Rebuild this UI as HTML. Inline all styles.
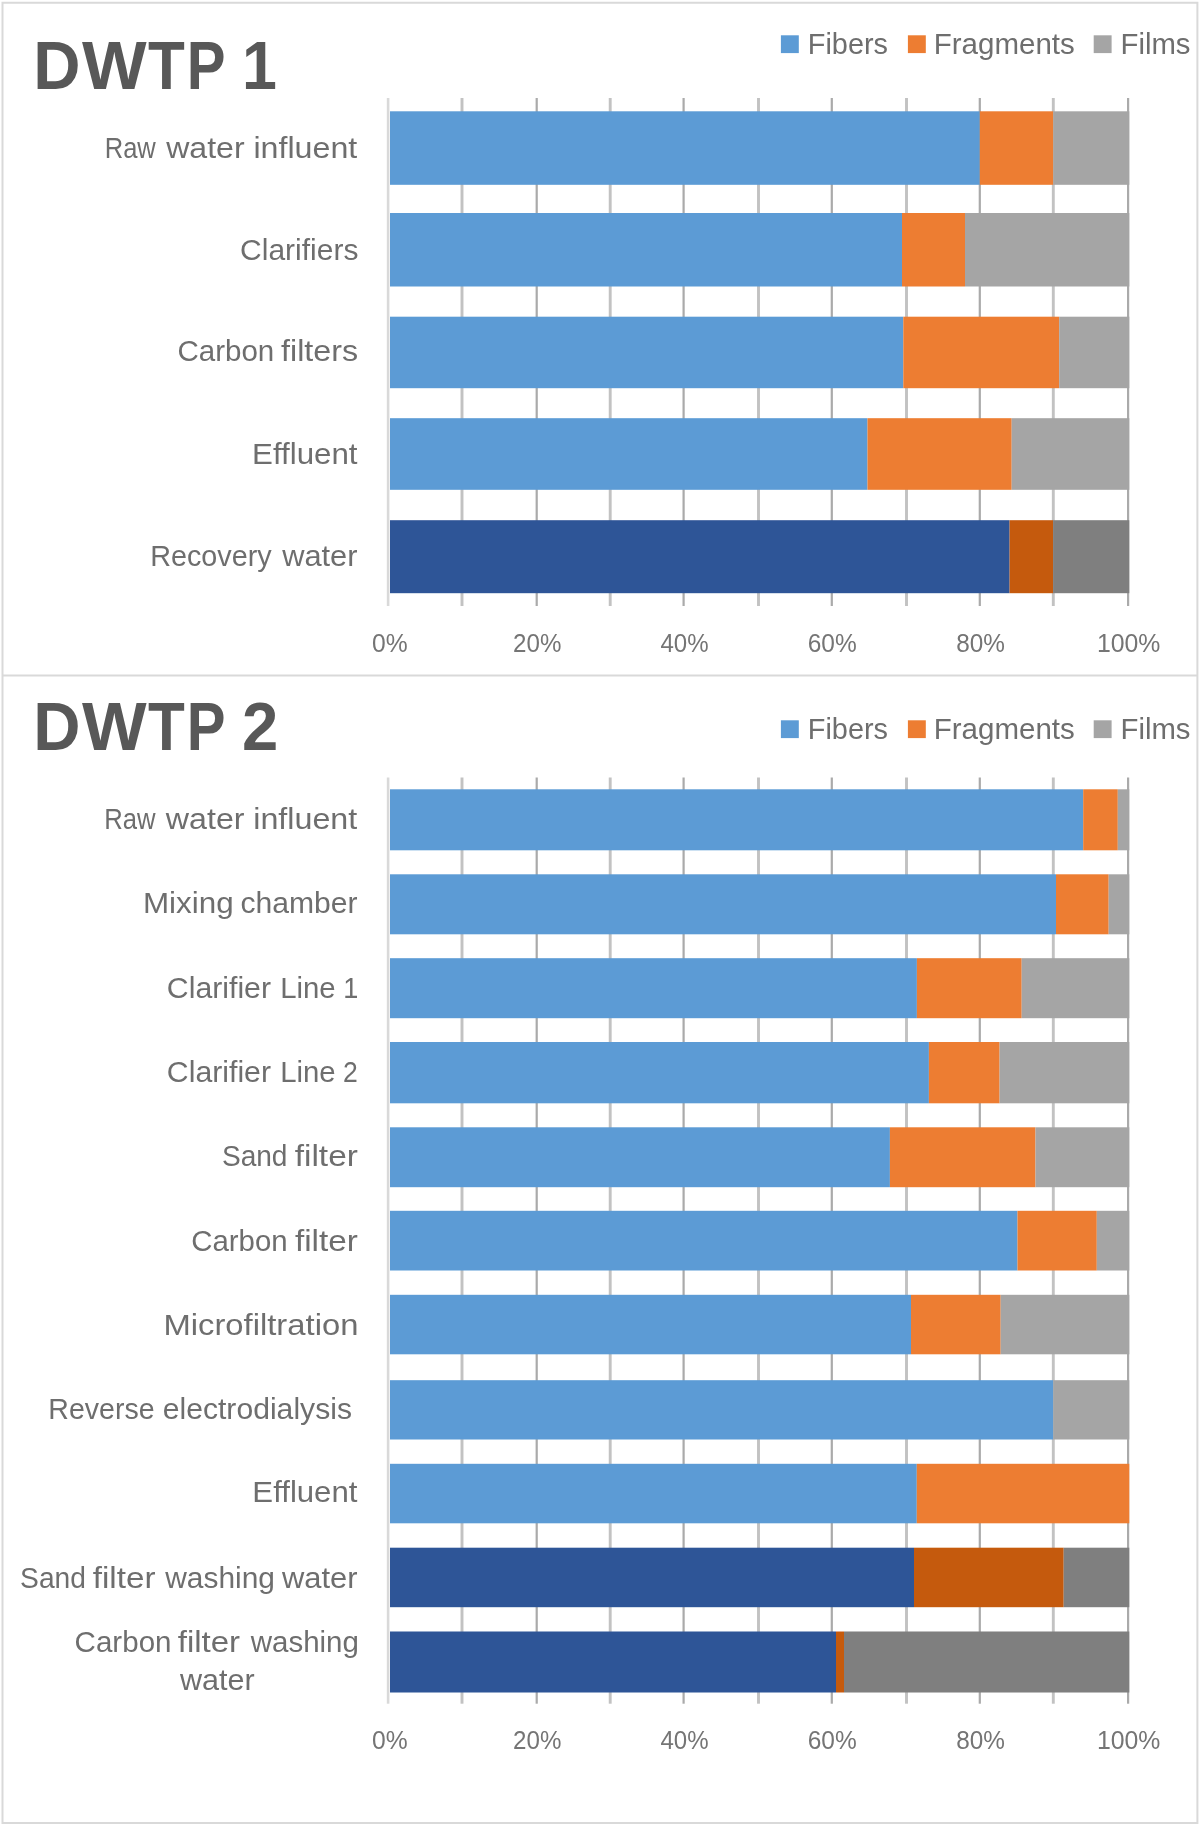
<!DOCTYPE html>
<html><head><meta charset="utf-8"><style>
html,body{margin:0;padding:0;background:#fff;}
svg{display:block;font-family:"Liberation Sans",sans-serif;}
</style></head><body>
<svg width="1200" height="1826" viewBox="0 0 1200 1826">
<defs><filter id="bs" x="-5%" y="-5%" width="110%" height="110%"><feGaussianBlur stdDeviation="0.5"/></filter><filter id="bt" x="-5%" y="-5%" width="110%" height="110%"><feGaussianBlur stdDeviation="0.7"/></filter></defs>
<rect width="1200" height="1826" fill="#ffffff"/>
<g filter="url(#bs)"><rect x="2.5" y="2.75" width="1194.9" height="1820.25" fill="none" stroke="#d9d9d9" stroke-width="2"/>
<line x1="2.5" y1="675.6" x2="1197.4" y2="675.6" stroke="#d9d9d9" stroke-width="2"/>
<rect x="460.55" y="98.00" width="2.90" height="508.00" fill="#c2c2c2"/>
<rect x="535.60" y="98.00" width="2.20" height="508.00" fill="#aaaaaa"/>
<rect x="608.75" y="98.00" width="2.90" height="508.00" fill="#c2c2c2"/>
<rect x="682.50" y="98.00" width="2.20" height="508.00" fill="#aaaaaa"/>
<rect x="757.05" y="98.00" width="2.90" height="508.00" fill="#c2c2c2"/>
<rect x="830.70" y="98.00" width="2.20" height="508.00" fill="#aaaaaa"/>
<rect x="905.05" y="98.00" width="2.90" height="508.00" fill="#c2c2c2"/>
<rect x="978.70" y="98.00" width="2.20" height="508.00" fill="#aaaaaa"/>
<rect x="1051.85" y="98.00" width="2.90" height="508.00" fill="#c2c2c2"/>
<rect x="1127.00" y="98.00" width="2.20" height="508.00" fill="#aaaaaa"/>
<rect x="386.80" y="98.00" width="2.60" height="508.00" fill="#d9d9d9"/>
<rect x="390.00" y="111.30" width="589.80" height="73.50" fill="#5b9bd5"/>
<rect x="979.80" y="111.30" width="73.50" height="73.50" fill="#ed7d31"/>
<rect x="1053.30" y="111.30" width="76.00" height="73.50" fill="#a5a5a5"/>
<rect x="390.00" y="213.00" width="512.00" height="73.50" fill="#5b9bd5"/>
<rect x="902.00" y="213.00" width="63.00" height="73.50" fill="#ed7d31"/>
<rect x="965.00" y="213.00" width="164.30" height="73.50" fill="#a5a5a5"/>
<rect x="390.00" y="316.70" width="513.30" height="71.50" fill="#5b9bd5"/>
<rect x="903.30" y="316.70" width="155.90" height="71.50" fill="#ed7d31"/>
<rect x="1059.20" y="316.70" width="70.10" height="71.50" fill="#a5a5a5"/>
<rect x="390.00" y="418.20" width="477.50" height="71.60" fill="#5b9bd5"/>
<rect x="867.50" y="418.20" width="144.20" height="71.60" fill="#ed7d31"/>
<rect x="1011.70" y="418.20" width="117.60" height="71.60" fill="#a5a5a5"/>
<rect x="390.00" y="520.20" width="619.60" height="73.00" fill="#2f5597"/>
<rect x="1009.60" y="520.20" width="43.50" height="73.00" fill="#c55a11"/>
<rect x="1053.10" y="520.20" width="76.20" height="73.00" fill="#7f7f7f"/>
<rect x="780.90" y="35.30" width="17.90" height="17.80" fill="#5b9bd5"/>
<rect x="907.90" y="35.30" width="17.90" height="17.80" fill="#ed7d31"/>
<rect x="1093.70" y="35.30" width="17.90" height="17.80" fill="#a5a5a5"/>
<rect x="460.55" y="777.50" width="2.90" height="926.20" fill="#c2c2c2"/>
<rect x="535.60" y="777.50" width="2.20" height="926.20" fill="#aaaaaa"/>
<rect x="608.75" y="777.50" width="2.90" height="926.20" fill="#c2c2c2"/>
<rect x="682.50" y="777.50" width="2.20" height="926.20" fill="#aaaaaa"/>
<rect x="757.05" y="777.50" width="2.90" height="926.20" fill="#c2c2c2"/>
<rect x="830.70" y="777.50" width="2.20" height="926.20" fill="#aaaaaa"/>
<rect x="905.05" y="777.50" width="2.90" height="926.20" fill="#c2c2c2"/>
<rect x="978.70" y="777.50" width="2.20" height="926.20" fill="#aaaaaa"/>
<rect x="1051.85" y="777.50" width="2.90" height="926.20" fill="#c2c2c2"/>
<rect x="1127.00" y="777.50" width="2.20" height="926.20" fill="#aaaaaa"/>
<rect x="386.80" y="777.50" width="2.60" height="926.20" fill="#d9d9d9"/>
<rect x="390.00" y="789.30" width="693.20" height="61.00" fill="#5b9bd5"/>
<rect x="1083.20" y="789.30" width="34.60" height="61.00" fill="#ed7d31"/>
<rect x="1117.80" y="789.30" width="11.50" height="61.00" fill="#a5a5a5"/>
<rect x="390.00" y="874.30" width="666.00" height="60.00" fill="#5b9bd5"/>
<rect x="1056.00" y="874.30" width="52.70" height="60.00" fill="#ed7d31"/>
<rect x="1108.70" y="874.30" width="20.60" height="60.00" fill="#a5a5a5"/>
<rect x="390.00" y="958.20" width="526.90" height="60.00" fill="#5b9bd5"/>
<rect x="916.90" y="958.20" width="104.80" height="60.00" fill="#ed7d31"/>
<rect x="1021.70" y="958.20" width="107.60" height="60.00" fill="#a5a5a5"/>
<rect x="390.00" y="1042.00" width="538.90" height="61.30" fill="#5b9bd5"/>
<rect x="928.90" y="1042.00" width="70.70" height="61.30" fill="#ed7d31"/>
<rect x="999.60" y="1042.00" width="129.70" height="61.30" fill="#a5a5a5"/>
<rect x="390.00" y="1127.30" width="499.90" height="59.90" fill="#5b9bd5"/>
<rect x="889.90" y="1127.30" width="145.60" height="59.90" fill="#ed7d31"/>
<rect x="1035.50" y="1127.30" width="93.80" height="59.90" fill="#a5a5a5"/>
<rect x="390.00" y="1210.80" width="627.50" height="59.70" fill="#5b9bd5"/>
<rect x="1017.50" y="1210.80" width="79.30" height="59.70" fill="#ed7d31"/>
<rect x="1096.80" y="1210.80" width="32.50" height="59.70" fill="#a5a5a5"/>
<rect x="390.00" y="1294.80" width="521.00" height="59.50" fill="#5b9bd5"/>
<rect x="911.00" y="1294.80" width="89.70" height="59.50" fill="#ed7d31"/>
<rect x="1000.70" y="1294.80" width="128.60" height="59.50" fill="#a5a5a5"/>
<rect x="390.00" y="1380.20" width="663.30" height="59.30" fill="#5b9bd5"/>
<rect x="1053.30" y="1380.20" width="76.00" height="59.30" fill="#a5a5a5"/>
<rect x="390.00" y="1463.80" width="526.80" height="59.50" fill="#5b9bd5"/>
<rect x="916.80" y="1463.80" width="212.50" height="59.50" fill="#ed7d31"/>
<rect x="390.00" y="1547.70" width="524.00" height="59.50" fill="#2f5597"/>
<rect x="914.00" y="1547.70" width="149.70" height="59.50" fill="#c55a11"/>
<rect x="1063.70" y="1547.70" width="65.60" height="59.50" fill="#7f7f7f"/>
<rect x="390.00" y="1631.50" width="446.00" height="61.00" fill="#2f5597"/>
<rect x="836.00" y="1631.50" width="8.00" height="61.00" fill="#c55a11"/>
<rect x="844.00" y="1631.50" width="285.30" height="61.00" fill="#7f7f7f"/>
<rect x="780.90" y="720.30" width="17.90" height="17.80" fill="#5b9bd5"/>
<rect x="907.90" y="720.30" width="17.90" height="17.80" fill="#ed7d31"/>
<rect x="1093.70" y="720.30" width="17.90" height="17.80" fill="#a5a5a5"/></g>
<g filter="url(#bt)"><text y="157.70" style="font-size:29px" fill="#6e6e6e"><tspan x="104.70" textLength="51.13" lengthAdjust="spacingAndGlyphs">Raw</tspan> <tspan x="166.15" textLength="78.49" lengthAdjust="spacingAndGlyphs">water</tspan> <tspan x="253.45" textLength="103.79" lengthAdjust="spacingAndGlyphs">influent</tspan></text>
<text y="259.60" style="font-size:29px" fill="#6e6e6e"><tspan x="240.08" textLength="118.31" lengthAdjust="spacingAndGlyphs">Clarifiers</tspan></text>
<text y="360.80" style="font-size:29px" fill="#6e6e6e"><tspan x="177.40" textLength="96.92" lengthAdjust="spacingAndGlyphs">Carbon</tspan> <tspan x="281.04" textLength="77.12" lengthAdjust="spacingAndGlyphs">filters</tspan></text>
<text y="464.30" style="font-size:29px" fill="#6e6e6e"><tspan x="252.05" textLength="105.48" lengthAdjust="spacingAndGlyphs">Effluent</tspan></text>
<text y="566.00" style="font-size:29px" fill="#6e6e6e"><tspan x="150.14" textLength="121.52" lengthAdjust="spacingAndGlyphs">Recovery</tspan> <tspan x="282.15" textLength="75.37" lengthAdjust="spacingAndGlyphs">water</tspan></text>
<text y="88.70" style="font-weight:bold;font-size:68px" fill="#595959"><tspan x="33.23" textLength="47.22" lengthAdjust="spacingAndGlyphs">D</tspan><tspan x="81.93" textLength="64.63" lengthAdjust="spacingAndGlyphs">W</tspan><tspan x="147.92" textLength="36.82" lengthAdjust="spacingAndGlyphs">T</tspan><tspan x="186.82" textLength="37.72" lengthAdjust="spacingAndGlyphs">P</tspan> <tspan x="241.95" textLength="34.90" lengthAdjust="spacingAndGlyphs">1</tspan></text>
<text x="807.83" y="54.20" textLength="80.21" lengthAdjust="spacingAndGlyphs" style="font-size:29.5px" fill="#6e6e6e">Fibers</text>
<text x="933.78" y="54.20" textLength="140.99" lengthAdjust="spacingAndGlyphs" style="font-size:29.5px" fill="#6e6e6e">Fragments</text>
<text x="1120.50" y="54.20" textLength="69.96" lengthAdjust="spacingAndGlyphs" style="font-size:29.5px" fill="#6e6e6e">Films</text>
<text x="371.94" y="651.50" textLength="35.64" lengthAdjust="spacingAndGlyphs" style="font-size:26px" fill="#747474">0%</text>
<text x="513.09" y="651.50" textLength="48.27" lengthAdjust="spacingAndGlyphs" style="font-size:26px" fill="#747474">20%</text>
<text x="660.45" y="651.50" textLength="48.11" lengthAdjust="spacingAndGlyphs" style="font-size:26px" fill="#747474">40%</text>
<text x="807.76" y="651.50" textLength="49.02" lengthAdjust="spacingAndGlyphs" style="font-size:26px" fill="#747474">60%</text>
<text x="956.19" y="651.50" textLength="48.67" lengthAdjust="spacingAndGlyphs" style="font-size:26px" fill="#747474">80%</text>
<text x="1096.91" y="651.50" textLength="63.48" lengthAdjust="spacingAndGlyphs" style="font-size:26px" fill="#747474">100%</text>
<text y="829.30" style="font-size:29px" fill="#6e6e6e"><tspan x="104.19" textLength="51.34" lengthAdjust="spacingAndGlyphs">Raw</tspan> <tspan x="165.85" textLength="78.69" lengthAdjust="spacingAndGlyphs">water</tspan> <tspan x="253.24" textLength="103.99" lengthAdjust="spacingAndGlyphs">influent</tspan></text>
<text y="913.00" style="font-size:29px" fill="#6e6e6e"><tspan x="142.92" textLength="90.80" lengthAdjust="spacingAndGlyphs">Mixing</tspan> <tspan x="240.42" textLength="117.08" lengthAdjust="spacingAndGlyphs">chamber</tspan></text>
<text y="998.20" style="font-size:29px" fill="#6e6e6e"><tspan x="166.86" textLength="104.14" lengthAdjust="spacingAndGlyphs">Clarifier</tspan> <tspan x="280.20" textLength="55.41" lengthAdjust="spacingAndGlyphs">Line</tspan> <tspan x="343.23" textLength="15.09" lengthAdjust="spacingAndGlyphs">1</tspan></text>
<text y="1082.00" style="font-size:29px" fill="#6e6e6e"><tspan x="166.86" textLength="104.14" lengthAdjust="spacingAndGlyphs">Clarifier</tspan> <tspan x="280.20" textLength="55.41" lengthAdjust="spacingAndGlyphs">Line</tspan> <tspan x="343.06" textLength="14.77" lengthAdjust="spacingAndGlyphs">2</tspan></text>
<text y="1165.50" style="font-size:29px" fill="#6e6e6e"><tspan x="221.92" textLength="65.59" lengthAdjust="spacingAndGlyphs">Sand</tspan> <tspan x="294.73" textLength="63.13" lengthAdjust="spacingAndGlyphs">filter</tspan></text>
<text y="1251.00" style="font-size:29px" fill="#6e6e6e"><tspan x="191.21" textLength="96.40" lengthAdjust="spacingAndGlyphs">Carbon</tspan> <tspan x="294.93" textLength="62.92" lengthAdjust="spacingAndGlyphs">filter</tspan></text>
<text y="1335.00" style="font-size:29px" fill="#6e6e6e"><tspan x="163.41" textLength="195.02" lengthAdjust="spacingAndGlyphs">Microfiltration</tspan></text>
<text y="1418.50" style="font-size:29px" fill="#6e6e6e"><tspan x="48.36" textLength="106.21" lengthAdjust="spacingAndGlyphs">Reverse</tspan> <tspan x="162.72" textLength="189.27" lengthAdjust="spacingAndGlyphs">electrodialysis</tspan></text>
<text y="1502.20" style="font-size:29px" fill="#6e6e6e"><tspan x="252.36" textLength="105.07" lengthAdjust="spacingAndGlyphs">Effluent</tspan></text>
<text y="1587.50" style="font-size:29px" fill="#6e6e6e"><tspan x="20.12" textLength="65.80" lengthAdjust="spacingAndGlyphs">Sand</tspan> <tspan x="92.73" textLength="62.82" lengthAdjust="spacingAndGlyphs">filter</tspan> <tspan x="165.24" textLength="109.78" lengthAdjust="spacingAndGlyphs">washing</tspan> <tspan x="281.95" textLength="75.57" lengthAdjust="spacingAndGlyphs">water</tspan></text>
<text y="1652.00" style="font-size:29px" fill="#6e6e6e"><tspan x="74.60" textLength="96.92" lengthAdjust="spacingAndGlyphs">Carbon</tspan> <tspan x="177.73" textLength="62.42" lengthAdjust="spacingAndGlyphs">filter</tspan> <tspan x="250.74" textLength="108.16" lengthAdjust="spacingAndGlyphs">washing</tspan></text>
<text y="1690.20" style="font-size:29px" fill="#6e6e6e"><tspan x="180.04" textLength="74.76" lengthAdjust="spacingAndGlyphs">water</tspan></text>
<text y="749.70" style="font-weight:bold;font-size:68px" fill="#595959"><tspan x="33.23" textLength="47.22" lengthAdjust="spacingAndGlyphs">D</tspan><tspan x="81.93" textLength="64.63" lengthAdjust="spacingAndGlyphs">W</tspan><tspan x="147.92" textLength="36.82" lengthAdjust="spacingAndGlyphs">T</tspan><tspan x="186.82" textLength="37.72" lengthAdjust="spacingAndGlyphs">P</tspan> <tspan x="242.04" textLength="36.27" lengthAdjust="spacingAndGlyphs">2</tspan></text>
<text x="807.83" y="739.20" textLength="80.21" lengthAdjust="spacingAndGlyphs" style="font-size:29.5px" fill="#6e6e6e">Fibers</text>
<text x="933.78" y="739.20" textLength="140.99" lengthAdjust="spacingAndGlyphs" style="font-size:29.5px" fill="#6e6e6e">Fragments</text>
<text x="1120.50" y="739.20" textLength="69.96" lengthAdjust="spacingAndGlyphs" style="font-size:29.5px" fill="#6e6e6e">Films</text>
<text x="371.94" y="1749.40" textLength="35.64" lengthAdjust="spacingAndGlyphs" style="font-size:26px" fill="#747474">0%</text>
<text x="513.09" y="1749.40" textLength="48.27" lengthAdjust="spacingAndGlyphs" style="font-size:26px" fill="#747474">20%</text>
<text x="660.45" y="1749.40" textLength="48.11" lengthAdjust="spacingAndGlyphs" style="font-size:26px" fill="#747474">40%</text>
<text x="807.76" y="1749.40" textLength="49.02" lengthAdjust="spacingAndGlyphs" style="font-size:26px" fill="#747474">60%</text>
<text x="956.19" y="1749.40" textLength="48.67" lengthAdjust="spacingAndGlyphs" style="font-size:26px" fill="#747474">80%</text>
<text x="1096.91" y="1749.40" textLength="63.48" lengthAdjust="spacingAndGlyphs" style="font-size:26px" fill="#747474">100%</text></g>
</svg></body></html>
